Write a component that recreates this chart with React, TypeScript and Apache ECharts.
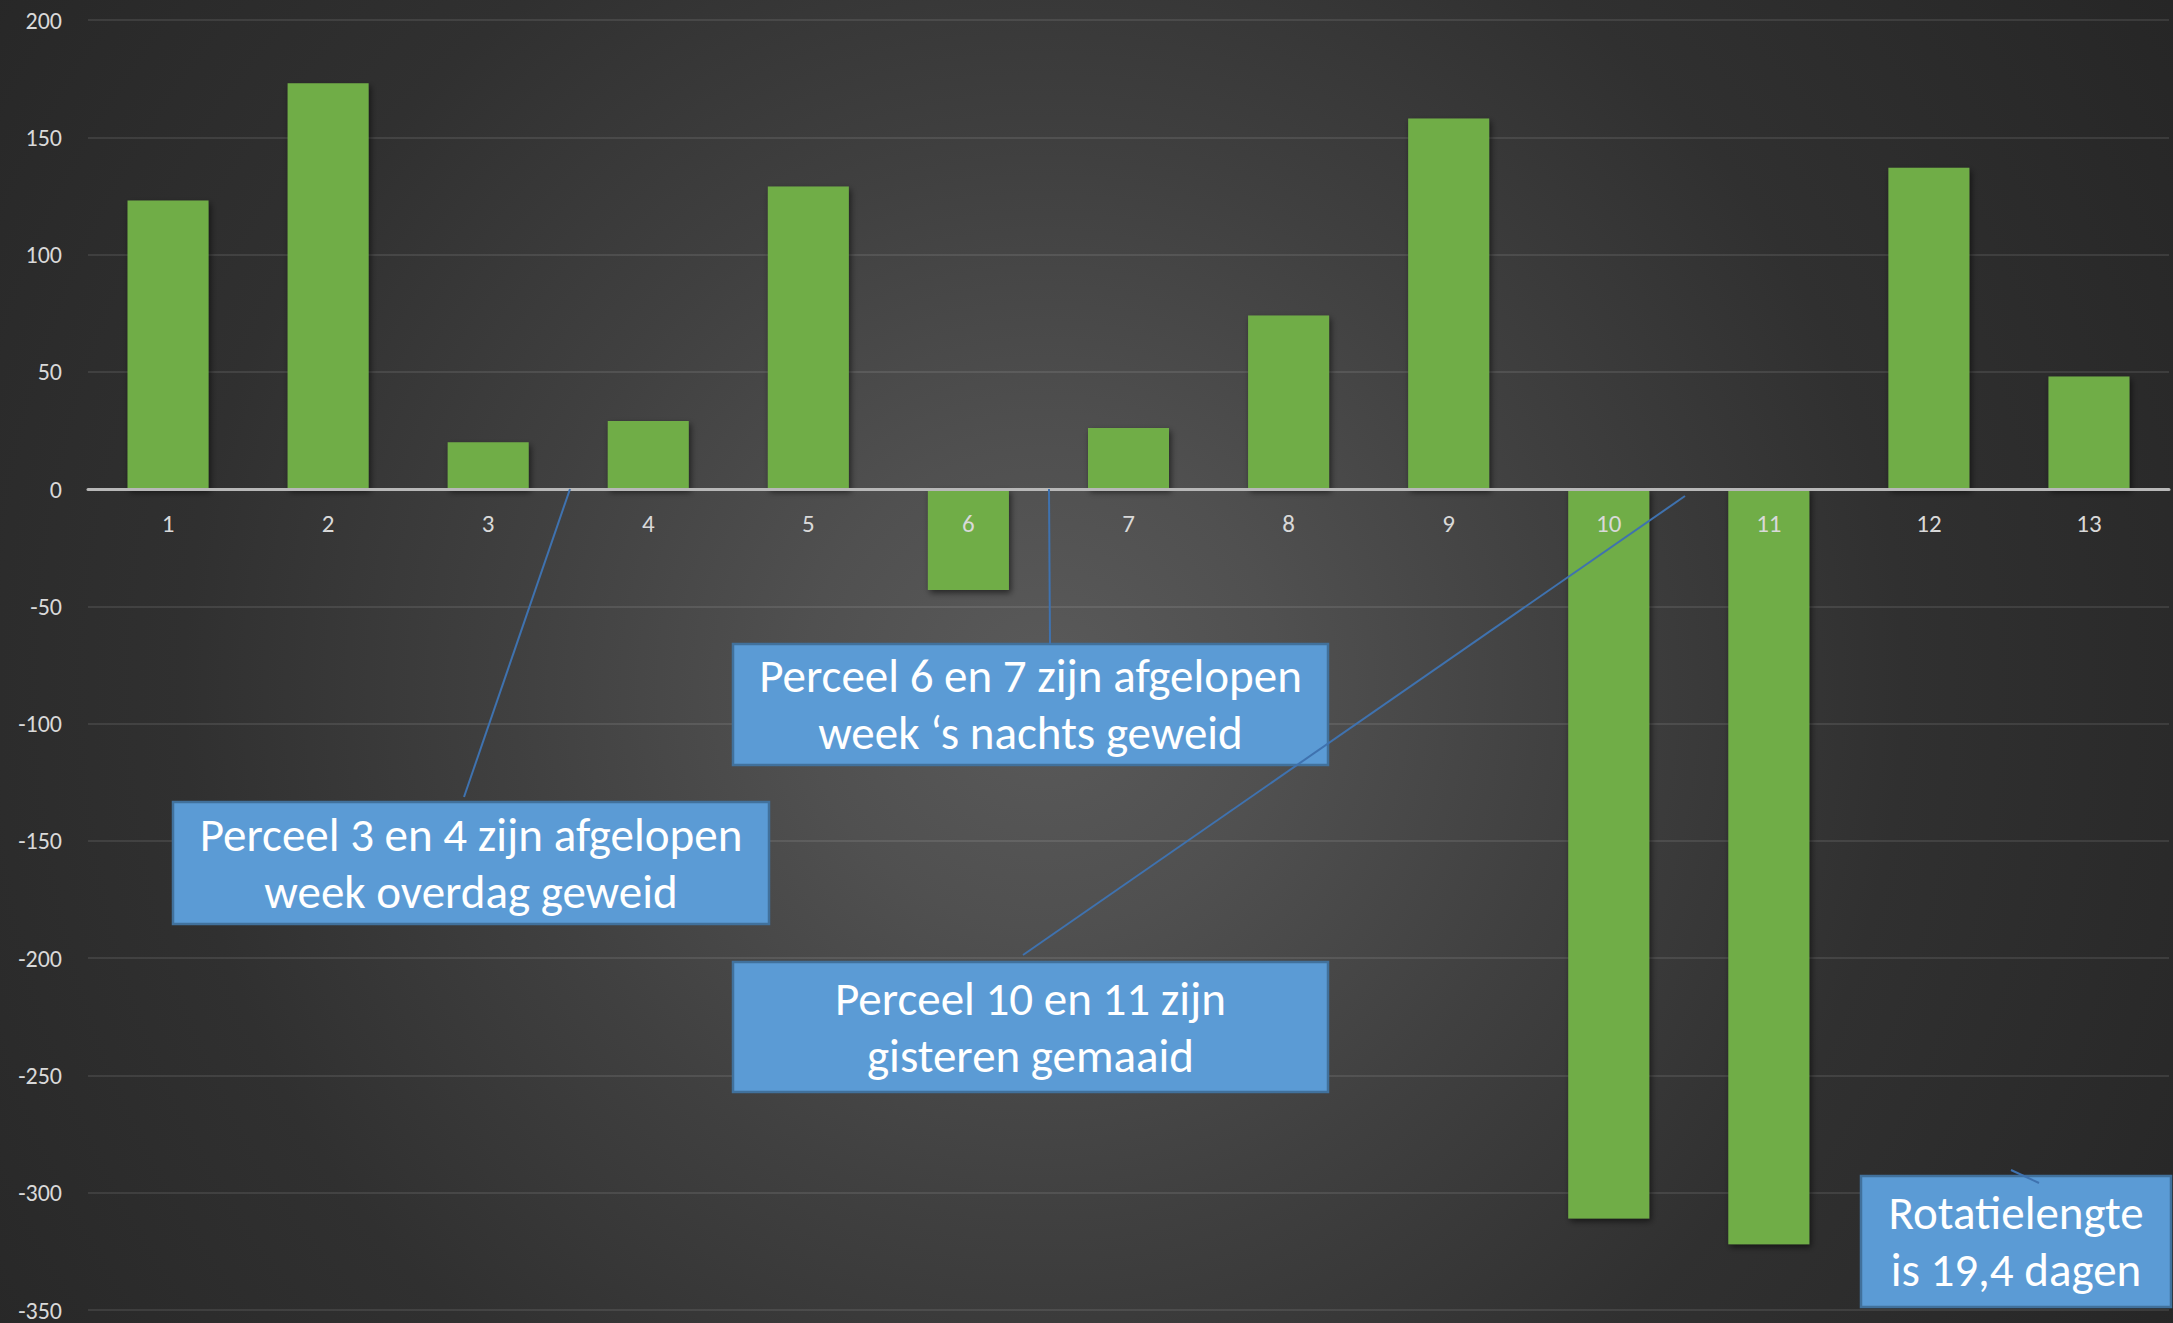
import React, { useEffect, useRef } from "react";
import * as echarts from "echarts";

const categories = ["1", "2", "3", "4", "5", "6", "7", "8", "9", "10", "11", "12", "13"];
const values = [123, 173, 20, 29, 129, -43, 26, 74, 158, -311, -322, 137, 48];
const yMin = -350;
const yMax = 200;
const yStep = 50;

const notes = [
  "Perceel 3 en 4 zijn afgelopen\nweek overdag geweid",
  "Perceel 6 en 7 zijn afgelopen\nweek \u2018s nachts geweid",
  "Perceel 10 en 11 zijn\ngisteren gemaaid",
  "Rotatielengte\nis 19,4 dagen",
];

const FONT = "Carlito, Lato, 'Open Sans', sans-serif";
const BOX_FILL = "#5b9bd5";
const BOX_STROKE = "#41719c";
const LINE_COLOR = "#3f72af";

const GRID_TOP = 20;
const GRID_BOTTOM = 13;
const CHART_H = 1323;

function box(x: number, y: number, w: number, h: number, text: string) {
  return {
    type: "group",
    z: 20,
    children: [
      {
        type: "rect",
        z: 20,
        shape: { x, y, width: w, height: h },
        style: { fill: BOX_FILL, stroke: BOX_STROKE, lineWidth: 2.5 },
      },
      {
        type: "text",
        z: 21,
        x: x + w / 2,
        y: y + h / 2,
        style: {
          text,
          fill: "#ffffff",
          fontSize: 47,
          fontFamily: FONT,
          align: "center",
          verticalAlign: "middle",
          lineHeight: 57,
        },
      },
    ],
  };
}

function connector(x1: number, y1: number, x2: number, y2: number) {
  return {
    type: "line",
    z: 30,
    shape: { x1, y1, x2, y2 },
    style: { stroke: LINE_COLOR, lineWidth: 2 },
  };
}

export default function App() {
  const ref = useRef<HTMLDivElement>(null);

  useEffect(() => {
    if (!ref.current) return;
    const chart = echarts.init(ref.current, undefined, { renderer: "svg" });
    const plotH = CHART_H - GRID_TOP - GRID_BOTTOM;
    const zeroFromBottom = (plotH * (0 - yMin)) / (yMax - yMin);
    chart.setOption({
      animation: false,
      backgroundColor: "transparent",
      grid: {
        left: 88,
        right: 4,
        top: GRID_TOP,
        bottom: GRID_BOTTOM,
        containLabel: false,
        outerBoundsMode: "none",
      },
      xAxis: {
        type: "category",
        data: categories,
        position: "bottom",
        offset: -zeroFromBottom,
        z: 10,
        axisLine: { onZero: false, lineStyle: { color: "#b8b8b8", width: 3 } },
        axisTick: { show: false },
        axisLabel: {
          color: "#d9d9d9",
          fontSize: 25,
          fontFamily: FONT,
          margin: 22,
        },
        splitLine: { show: false },
      },
      yAxis: {
        type: "value",
        min: yMin,
        max: yMax,
        interval: yStep,
        axisLine: { show: false },
        axisTick: { show: false },
        axisLabel: {
          color: "#d9d9d9",
          fontSize: 24,
          lineHeight: 20,
          fontFamily: FONT,
          margin: 26,
        },
        splitLine: { lineStyle: { color: "rgba(255,255,255,0.13)", width: 1.5 } },
      },
      series: [
        {
          type: "bar",
          data: values,
          barWidth: 81,
          itemStyle: {
            color: "#70ad47",
            shadowColor: "rgba(0,0,0,0.55)",
            shadowBlur: 6,
            shadowOffsetX: 2,
            shadowOffsetY: 3,
          },
        },
      ],
      graphic: [
        box(173, 802, 596, 122, notes[0]),
        box(733, 644, 595, 121, notes[1]),
        box(733, 962, 595, 130, notes[2]),
        box(1861, 1176, 310, 131, notes[3]),
        connector(464, 797, 570, 489),
        connector(1050, 644, 1049, 489),
        connector(1023, 955, 1685, 496),
        connector(2011, 1170, 2039, 1183),
      ],
    });
    return () => chart.dispose();
  }, []);

  return (
    <div
      ref={ref}
      style={{
        position: "absolute",
        left: 0,
        top: 0,
        width: 2173,
        height: 1323,
        background:
          "radial-gradient(circle at 48% 52%, #5a5a5a 0%, #505050 18%, #404040 40%, #303030 65%, #262626 100%)",
      }}
    />
  );
}
